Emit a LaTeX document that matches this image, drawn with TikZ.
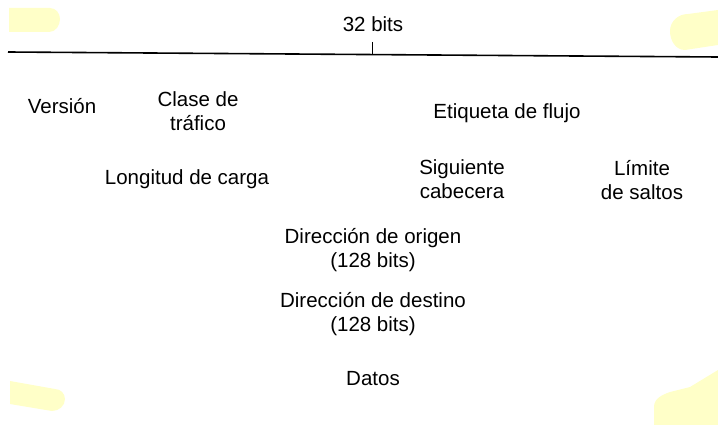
\documentclass[tikz,border=0pt]{standalone}
\usepackage{fontspec}
\setmainfont{Liberation Sans}
\usetikzlibrary{positioning}
\definecolor{scanyellow}{HTML}{FFFFC8}

\begin{document}
\begin{tikzpicture}[x=1pt, y=-1pt,
  fld/.style={font=\fontsize{20.5}{24}\selectfont, align=center, anchor=base, inner sep=0pt}]
\useasboundingbox (0,0) rectangle (718,425);
% marcas amarillas del escaneo
\fill[scanyellow] (9,8) -- (50,8) to[out=0,in=90] (60,19) to[out=-90,in=0] (49,32) -- (9,32) -- cycle;
\fill[scanyellow] (718,10) -- (688,14) to[out=180,in=90] (670,31) to[out=-90,in=180] (685,50) -- (718,45) -- cycle;
\fill[scanyellow] (10,381) -- (55,389) to[out=0,in=90] (65,399) to[out=-90,in=0] (52,411) -- (10,404) -- cycle;
\fill[scanyellow] (654,425) -- (654,407) to[out=90,in=200] (670,392) -- (690,387) -- (718,370) -- (718,425) -- cycle;
% regla de 32 bits
\coordinate (rl) at (8,52);
\coordinate (rr) at (718,57);
\coordinate (tk) at (372,42);
\coordinate (tb) at (372,54.5);
\draw[line width=1.6pt] (rl) -- (rr);
\draw[line width=0.9pt] (tk) -- (tb);
\node[fld] (bits) at (373,32) {32 bits};
% campos de la cabecera (base = ultima linea)
\node[fld] (ver) at (62,114) {Versión};
\node[fld] (cls) at (198,131) {Clase de\\tráfico};
\node[fld] (flj) at (507,119) {Etiqueta de flujo};
\node[fld] (lon) at (187,185) {Longitud de carga};
\node[fld] (sig) at (462,198) {Siguiente\\cabecera};
\node[fld] (lim) at (642,200) {Límite\\de saltos};
\node[fld] (ori) at (373,267) {Dirección de origen\\(128 bits)};
\node[fld] (des) at (373,331) {Dirección de destino\\(128 bits)};
\node[fld] (dat) at (373,385) {Datos};
\end{tikzpicture}
\end{document}
